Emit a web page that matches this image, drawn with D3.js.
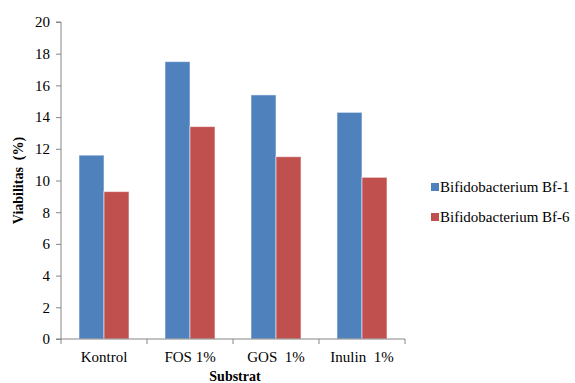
<!DOCTYPE html>
<html>
<head>
<meta charset="utf-8">
<script src="https://cdn.jsdelivr.net/npm/d3@7"></script>
</head>
<body style="margin:0">
<svg id="chart" width="575" height="383"></svg>
<script>
// Viability data per substrate
const categories = ["Kontrol", "FOS 1%", "GOS \u00A01%", "Inulin \u00A01%"];
const seriesNames = ["Bifidobacterium Bf-1", "Bifidobacterium Bf-6"];
const bf1Values = [11.6, 17.5, 15.4, 14.3];
const bf6Values = [9.3, 13.4, 11.5, 10.2];
const yTicks = [0, 2, 4, 6, 8, 10, 12, 14, 16, 18, 20];
const colors = ["#4F81BD", "#C0504D"];

const fontName = "Liberation Serif";
const svg = d3.select("#chart").style("display", "block");
const margin = { left: 61, top: 22 };
const plotW = 405 - margin.left;
const plotH = 339 - margin.top;
const axisColor = "#868686";

const g = svg.append("g").attr("transform", `translate(${margin.left},${margin.top})`);

const x = d3.scaleBand().domain(categories).range([0, plotW]).paddingInner(0).paddingOuter(0);
const x1 = d3.scaleBand().domain(seriesNames).range([0, x.bandwidth()]).paddingInner(0).paddingOuter(0.72);
const y = d3.scaleLinear().domain([0, 20]).range([plotH, 0]);

// Bars
const rows = categories.map((c, i) => ({ cat: c, vals: [bf1Values[i], bf6Values[i]] }));
const groups = g.selectAll("g.grp").data(rows).join("g")
  .attr("class", "grp")
  .attr("transform", d => `translate(${x(d.cat)},0)`);
groups.selectAll("rect").data(d => d.vals.map((v, k) => ({ name: seriesNames[k], v, k })))
  .join("rect")
  .attr("x", d => x1(d.name))
  .attr("y", d => y(d.v))
  .attr("width", x1.bandwidth())
  .attr("height", d => plotH - y(d.v))
  .attr("fill", d => colors[d.k])
  .attr("stroke", "rgba(255,255,255,0.55)")
  .attr("stroke-width", 1);

// Y axis
const yAxis = d3.axisLeft(y).tickValues(yTicks).tickSize(5).tickPadding(6);
const ya = g.append("g").call(yAxis).attr("font-family", fontName).attr("font-size", 15);
ya.select(".domain").attr("stroke", axisColor).attr("d", `M-5,${plotH}H0V0H-5`);
ya.selectAll(".tick line").attr("stroke", axisColor);
ya.selectAll(".tick text").attr("fill", "#000");

// X axis
const xAxis = d3.axisBottom(x).tickSize(0).tickPadding(12);
const xa = g.append("g").attr("transform", `translate(0,${plotH})`).call(xAxis)
  .attr("font-family", fontName).attr("font-size", 15);
xa.select(".domain").attr("stroke", axisColor).attr("d", `M0,0H${plotW}`);
xa.selectAll(".tick text").attr("fill", "#000");
// Category boundary ticks
const bounds = categories.map(c => x(c)).concat([plotW]);
xa.selectAll("line.bound").data(bounds).join("line")
  .attr("class", "bound")
  .attr("x1", d => d).attr("x2", d => d)
  .attr("y1", 0).attr("y2", 5)
  .attr("stroke", axisColor);

// Axis titles
svg.append("text")
  .attr("transform", `translate(23,${margin.top + plotH / 2}) rotate(-90)`)
  .attr("text-anchor", "middle")
  .attr("font-family", fontName).attr("font-size", 14).attr("font-weight", "bold")
  .text("Viabilitas \u00A0(%)");
svg.append("text")
  .attr("x", margin.left + plotW / 2 + 2).attr("y", 381)
  .attr("text-anchor", "middle")
  .attr("font-family", fontName).attr("font-size", 14).attr("font-weight", "bold")
  .text("Substrat");

// Legend
const legend = svg.append("g").attr("transform", "translate(431,188)");
seriesNames.forEach((name, i) => {
  const row = legend.append("g").attr("transform", `translate(0,${i * 30})`);
  row.append("rect").attr("x", 0).attr("y", -5).attr("width", 8).attr("height", 8).attr("fill", colors[i]);
  row.append("text").attr("x", 9).attr("y", 4)
    .attr("font-family", fontName).attr("font-size", 15).text(name);
});
</script>
</body>
</html>
